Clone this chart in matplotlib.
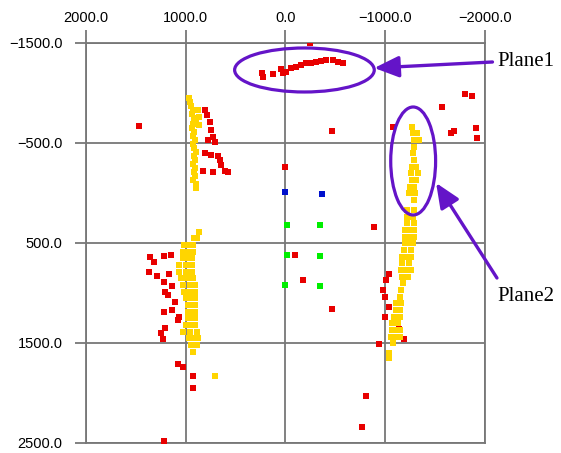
import numpy as np
import matplotlib
matplotlib.use('Agg')
import matplotlib.pyplot as plt
from matplotlib import font_manager
from matplotlib.patches import Ellipse, FancyArrowPatch

names = set(f.name for f in font_manager.fontManager.ttflist)
if 'Liberation Sans Narrow' in names:
    tick_font, tick_size = 'Liberation Sans Narrow', 12
else:
    tick_font, tick_size = 'Liberation Sans', 10.5
plt.rcParams['font.family'] = [tick_font, 'DejaVu Sans']

# tick positions
xticks = [2000, 1000, 0, -1000, -2000]
yticks = [-1500, -500, 500, 1500, 2500]

# red points
red_x = [-250, 240, 130, 227, 43, 27, -7, -57, -107, -157, -207, -257, -307, -357, -407, -473, -523, -573,
         1470, 810, 787, 760, 743, 727, 777, 710, 810, 743, 677, 660, 643, 610, 577, 827, 727,
         1360, 1317, 1220, 1150, 1373, 1293, 1167, 1220, 1137, 1207, 1173, 1103, 1220, 1137, 1067, 1077,
         1207, 1250, 1233, 1077, 1023, 923, 923, 1220,
         3, -97, -180, -463, -463, -890,
         -1797, -1867, -1567, -1080, -1690, -1657, -1907, -1923,
         -1033, -1007, -973, -1000, -1033, -1000, -1140, -1190, -933, -807, -763]
red_y = [-1500, -1200, -1190, -1163, -1237, -1203, -1213, -1253, -1263, -1280, -1297, -1297, -1313, -1323, -1330, -1330, -1313, -1303,
         -673, -830, -780, -713, -630, -563, -530, -513, -397, -380, -373, -330, -280, -220, -207, -220, -207,
         643, 687, 630, 617, 787, 830, 813, 887, 930, 987, 1017, 1087, 1187, 1170, 1237, 1270,
         1353, 1403, 1463, 1710, 1737, 1827, 1953, 2477,
         -263, 620, 870, 1163, -620, 337,
         -990, -973, -863, -663, -623, -603, -647, -547,
         813, 870, 970, 1043, 1137, 1243, 1363, 1463, 1513, 2027, 2337]

# yellow points
yellow_x = [970, 960, 950, 930, 940, 920, 900, 930, 940, 920, 930, 910, 930, 920, 900, 920, 910, 930, 910, 920, 910, 930, 900, 900,
            880, 870, 870,
            870, 913, 890, 1013, 970, 923, 1030, 980, 923, 1030, 980, 940, 1063, 1000, 940, 1063, 1000, 940,
            1047, 990, 923, 1030, 960, 907, 1013, 960, 907, 997, 950, 907, 980, 943, 907, 980, 943, 907,
            980, 943, 907, 997, 952, 907, 1030, 960, 890, 963, 918, 873, 947, 890, 930, 710,
            -1273, -1280, -1317, -1290, -1340, -1290, -1280, -1290, -1267, -1313, -1263, -1327, -1270, -1310,
            -1253, -1293, -1243, -1303, -1290,
            -1220, -1293, -1220, -1277, -1220, -1293, -1203, -1293, -1250, -1203, -1293, -1250, -1197, -1277, -1237,
            -1187, -1260, -1170, -1260, -1215, -1170, -1243, -1163, -1260, -1210, -1170, -1227, -1180, -1157, -1147,
            -1110, -1160, -1103, -1143, -1087, -1143, -1070, -1127, -1063, -1143, -1103, -1053, -1143, -1098,
            -1077, -1040, -1040]
yellow_y = [-950, -910, -870, -830, -790, -750, -720, -690, -650, -610, -570, -530, -490, -450, -410, -370, -330, -290, -250, -210, -170, -130, -90, -50,
            -830, -760, -680,
            387, 453, 453, 520, 520, 520, 587, 587, 587, 653, 653, 653, 720, 720, 720, 787, 787, 787,
            853, 853, 853, 920, 920, 920, 987, 987, 987, 1053, 1053, 1053, 1120, 1120, 1120, 1187, 1187, 1187,
            1253, 1253, 1253, 1320, 1320, 1320, 1387, 1387, 1387, 1453, 1453, 1453, 1520, 1520, 1587, 1827,
            -663, -597, -597, -530, -530, -463, -397, -330, -263, -263, -197, -197, -130, -130,
            -63, -63, 3, 3, 70,
            170, 170, 237, 237, 303, 303, 370, 370, 370, 437, 437, 437, 503, 503, 503,
            570, 570, 637, 637, 637, 703, 703, 770, 770, 770, 837, 837, 903, 970, 1037,
            1103, 1103, 1170, 1170, 1237, 1237, 1303, 1303, 1370, 1370, 1370, 1437, 1437, 1437,
            1503, 1603, 1653]

green_x = [-13, -350, -13, -350, 3, -350]
green_y = [320, 320, 620, 633, 917, 930]

blue_x = [3, -367]
blue_y = [-7, 7]


def fmt(v):
    return ('%.1f' % v).replace('-', '\u2212')


fig = plt.figure(figsize=(5.61, 4.53), dpi=100)
ax = fig.add_axes([0.1533, 0.0221, 0.7112, 0.883])

ms = 4.9
ax.plot(red_x, red_y, 's', color='#e80000', ms=ms, mew=0, zorder=3)
ax.plot(yellow_x, yellow_y, 's', color='#ffd500', ms=ms, mew=0, zorder=3)
ax.plot(green_x, green_y, 's', color='#00ee00', ms=ms, mew=0, zorder=3)
ax.plot(blue_x, blue_y, 's', color='#0010cc', ms=ms, mew=0, zorder=3)

ax.set_xlim(2000, -2000)
ax.set_ylim(2500, -1500)
ax.set_xticks(xticks)
ax.set_yticks(yticks)
ax.set_xticklabels([fmt(v) for v in xticks])
ax.set_yticklabels([fmt(v) for v in yticks])
ax.xaxis.tick_top()
ax.grid(True, color='#777777', lw=1.3, zorder=1)
ax.tick_params(axis='x', length=9.5, width=1.3, color='#777777', pad=3.5, labelsize=tick_size)
ax.tick_params(axis='y', length=8, width=1.3, color='#777777', pad=9, labelsize=tick_size)
for s in ax.spines.values():
    s.set_color('#777777')
    s.set_linewidth(1.3)

purple = '#6414c8'
ax.add_patch(Ellipse((-190, -1230), 1400, 440, fill=False, ec=purple, lw=2.3, zorder=4, clip_on=False))
ax.add_patch(Ellipse((-1280, -320), 450, 1080, fill=False, ec=purple, lw=2.3, zorder=4, clip_on=False))

a1 = FancyArrowPatch((-2075, -1310), (-890, -1250), arrowstyle='-|>,head_length=1.5,head_width=0.65',
                     mutation_scale=10, color=purple, lw=2.4, shrinkA=0, shrinkB=0, clip_on=False, zorder=5)
ax.add_patch(a1)
a2 = FancyArrowPatch((-2120, 850), (-1510, -100), arrowstyle='-|>,head_length=1.5,head_width=0.65',
                     mutation_scale=10, color=purple, lw=2.4, shrinkA=0, shrinkB=0, clip_on=False, zorder=5)
ax.add_patch(a2)

ax.text(-2125, -1310, 'Plane1', family='Liberation Serif', fontsize=15, ha='left', va='center')
ax.text(-2125, 1040, 'Plane2', family='Liberation Serif', fontsize=15, ha='left', va='center')

fig.savefig('out.png', dpi=100)
